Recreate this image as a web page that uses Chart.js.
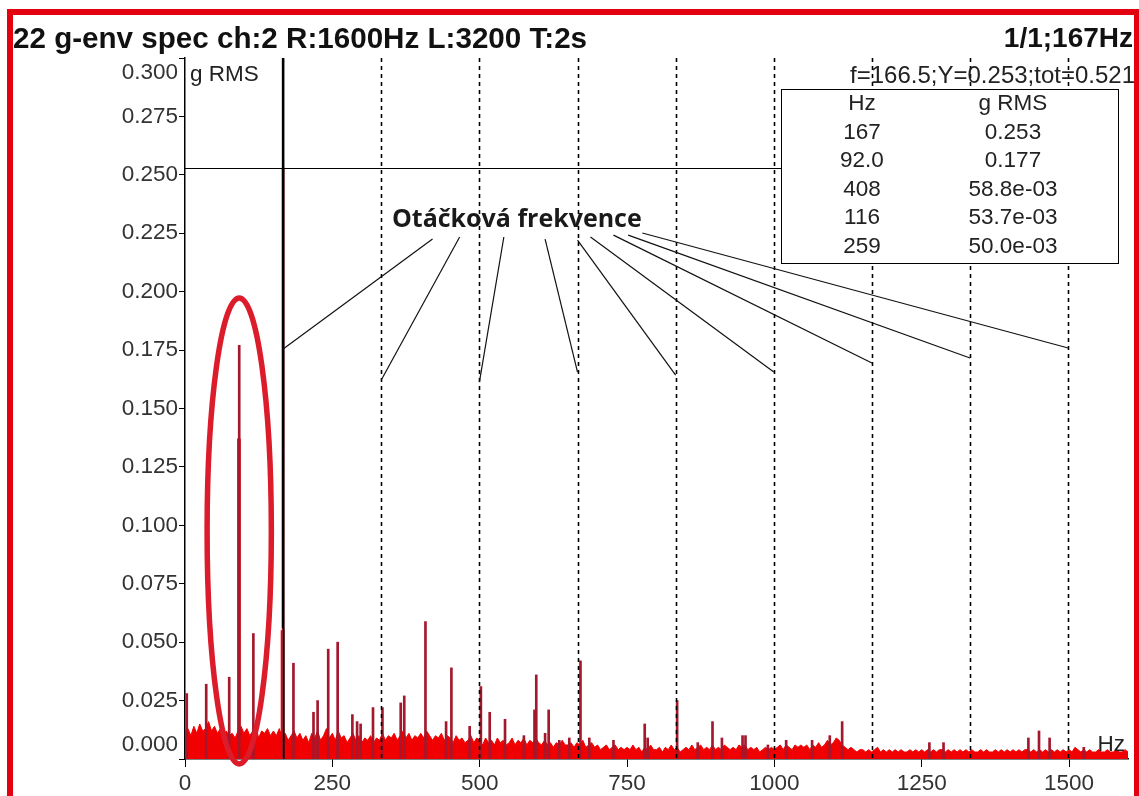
<!DOCTYPE html>
<html>
<head>
<meta charset="utf-8">
<script src="https://cdn.jsdelivr.net/npm/chart.js@4.4.1/dist/chart.umd.min.js"></script>
<style>
  html,body{margin:0;padding:0;background:#fff;}
  body{width:1139px;height:796px;position:relative;overflow:hidden;font-family:"Liberation Sans",Arial,sans-serif;}
  #frame{position:absolute;left:7px;top:9px;width:1121px;height:820px;border-left:6px solid #e3000f;border-top:6px solid #e3000f;border-right:5px solid #e3000f;box-sizing:content-box;}
  #wrap{position:absolute;left:0;top:0;width:1139px;height:796px;}
  .t{position:absolute;white-space:nowrap;color:#111;}
  #title{left:13px;top:21px;font-weight:bold;font-size:29.6px;line-height:34px;}
  #tright{right:6px;top:22px;font-weight:bold;font-size:28px;line-height:32px;}
  #info{right:4px;top:62px;font-size:24px;line-height:26px;color:#222;}
  #tbl{position:absolute;left:781px;top:89px;width:336px;height:173px;border:1.5px solid #000;background:#fff;}
  #tbl table{border-collapse:collapse;font-size:22.5px;color:#222;margin-top:-1px;}
  #tbl td{padding:0;height:28.6px;line-height:28.6px;text-align:center;}
</style>
</head>
<body>
<div id="wrap"><canvas id="c" width="1139" height="796"></canvas></div>
<div id="frame"></div>
<div class="t" id="title">22 g-env spec ch:2 R:1600Hz L:3200 T:2s</div>
<div class="t" id="tright">1/1;167Hz</div>
<div class="t" id="info">f=166.5;Y=0.253;tot=0.521</div>
<div id="tbl"><table id="tb"></table></div>
<script>
// ---------------- DATA ----------------
const xTicks = [0, 250, 500, 750, 1000, 1250, 1500];
const xTickLabels = ["0", "250", "500", "750", "1000", "1250", "1500"];
const yTicks = [0, 0.025, 0.05, 0.075, 0.1, 0.125, 0.15, 0.175, 0.2, 0.225, 0.25, 0.275, 0.3];
const yTickLabels = ["0.000","0.025","0.050","0.075","0.100","0.125","0.150","0.175","0.200","0.225","0.250","0.275","0.300"];

// noise floor of the envelope spectrum, one value every NOISE_STEP_HZ from 0 Hz
const NOISE_STEP_HZ = 5;
const noiseFloor = [
0.012,0.013,0.010,0.014,0.011,0.015,0.012,0.013,0.016,0.012,
0.014,0.011,0.013,0.009,0.012,0.010,0.011,0.009,0.012,0.014,
0.011,0.013,0.010,0.012,0.014,0.009,0.012,0.011,0.013,0.010,
0.012,0.010,0.013,0.009,0.011,0.008,0.010,0.012,0.009,0.011,
0.008,0.010,0.007,0.011,0.009,0.012,0.008,0.010,0.013,0.009,
0.011,0.008,0.012,0.009,0.010,0.007,0.009,0.011,0.008,0.010,
0.007,0.009,0.008,0.010,0.007,0.009,0.008,0.011,0.008,0.010,
0.009,0.011,0.008,0.010,0.012,0.009,0.011,0.008,0.010,0.009,
0.011,0.009,0.012,0.010,0.008,0.010,0.009,0.011,0.008,0.010,
0.009,0.007,0.010,0.008,0.009,0.007,0.008,0.010,0.007,0.009,
0.008,0.006,0.009,0.007,0.008,0.006,0.009,0.007,0.008,0.006,
0.007,0.009,0.006,0.008,0.007,0.009,0.006,0.008,0.007,0.009,
0.007,0.006,0.008,0.006,0.007,0.005,0.007,0.006,0.008,0.006,
0.006,0.007,0.005,0.007,0.006,0.008,0.005,0.006,0.007,0.005,
0.006,0.004,0.005,0.006,0.004,0.005,0.006,0.004,0.005,0.004,
0.005,0.004,0.006,0.004,0.005,0.003,0.005,0.004,0.006,0.004,
0.004,0.005,0.003,0.005,0.004,0.006,0.004,0.005,0.003,0.004,
0.005,0.004,0.006,0.004,0.005,0.006,0.004,0.005,0.004,0.006,
0.004,0.005,0.004,0.006,0.005,0.004,0.005,0.004,0.006,0.005,
0.006,0.004,0.005,0.004,0.005,0.003,0.004,0.005,0.004,0.005,
0.004,0.005,0.006,0.004,0.006,0.005,0.004,0.006,0.005,0.006,
0.005,0.006,0.004,0.006,0.005,0.007,0.005,0.006,0.008,0.006,
0.007,0.009,0.008,0.006,0.005,0.004,0.005,0.004,0.003,0.004,
0.004,0.003,0.004,0.003,0.004,0.005,0.003,0.004,0.003,0.004,
0.003,0.004,0.003,0.004,0.003,0.003,0.004,0.003,0.004,0.003,
0.004,0.003,0.004,0.003,0.004,0.003,0.004,0.004,0.003,0.004,
0.003,0.004,0.003,0.004,0.003,0.004,0.003,0.004,0.003,0.003,
0.004,0.003,0.004,0.003,0.003,0.004,0.003,0.004,0.003,0.004,
0.003,0.004,0.003,0.004,0.003,0.004,0.004,0.003,0.004,0.003,
0.004,0.003,0.004,0.003,0.004,0.003,0.004,0.003,0.004,0.003,
0.004,0.003,0.005,0.004,0.003,0.004,0.003,0.004,0.003,0.003,
0.004,0.003,0.003,0.004,0.003,0.003,0.004,0.003,0.003,0.004,
0.003
];

// discrete spectral lines (dark red)
const peakHz  = [3, 36, 75, 92, 116, 166.5, 184, 218, 225, 243, 259, 284, 292, 298, 319, 335,
                 366, 372, 408, 443, 452, 483, 502, 517, 543, 575, 593, 596, 611, 617, 635, 652,
                 671, 686, 727, 780, 785, 835, 870, 895, 911, 946, 951, 989, 1020, 1064, 1094,
                 1115, 1263, 1287, 1431, 1449, 1467, 1525];
const peakAmp = [0.028, 0.032, 0.035, 0.177, 0.0537, 0.253, 0.041, 0.020, 0.025, 0.047, 0.050, 0.019, 0.016, 0.015, 0.022, 0.022,
                 0.024, 0.027, 0.0588, 0.016, 0.039, 0.014, 0.031, 0.020, 0.017, 0.010, 0.021, 0.036, 0.011, 0.021, 0.008, 0.009,
                 0.042, 0.009, 0.008, 0.015, 0.009, 0.025, 0.007, 0.016, 0.009, 0.010, 0.010, 0.006, 0.008, 0.008, 0.010,
                 0.016, 0.007, 0.007, 0.009, 0.012, 0.009, 0.005];
// neighbouring bins drawn in bright red
const binHz  = [91.5, 165.5];
const binAmp = [0.137, 0.055];

// cursor / harmonic cursors
const cursorHz = 166.5;
const cursorY = 0.253;
const harmonicOrders = [2, 3, 4, 5, 6, 7, 8, 9];
const cursorLineEndHz = 1013;

// table of largest peaks
const tableHz  = ["167", "92.0", "408", "116", "259"];
const tableAmp = ["0.253", "0.177", "58.8e-03", "53.7e-03", "50.0e-03"];

// annotation "Otáčková frekvence"
const annotText = "Otáčková frekvence";
const annotHz = 563, annotY = 0.2307;
const leaderStartHz = [420, 466, 541, 611, 666, 688, 727, 752, 776];
const leaderStartY  = [0.2225, 0.2234, 0.2234, 0.2225, 0.2221, 0.2234, 0.2242, 0.2242, 0.2251];
const leaderEndOrder = [1, 2, 3, 4, 5, 6, 7, 8, 9];
const leaderEndY    = [0.1755, 0.1622, 0.1613, 0.1656, 0.1643, 0.1656, 0.1695, 0.1716, 0.1759];

// highlight ellipse around the 92 Hz line
const ellipseHz = 92, ellipseY = 0.0976, ellipseRxHz = 54.5, ellipseRyY = 0.0997;

// ---------------- TABLE ----------------
(function(){
  const tb = document.getElementById('tb');
  let html = '<tr><td style="width:160px">Hz</td><td style="width:142px">g RMS</td></tr>';
  for (let i = 0; i < tableHz.length; i++) html += '<tr><td>' + tableHz[i] + '</td><td>' + tableAmp[i] + '</td></tr>';
  tb.innerHTML = html;
})();

// ---------------- CHART ----------------
const noiseData = noiseFloor.map((v, i) => ({x: i * NOISE_STEP_HZ, y: v}));
const peakData = peakHz.map((f, i) => ({x: f, y: peakAmp[i]}));
const binData = binHz.map((f, i) => ({x: f, y: binAmp[i]}));

const FONT = '"Liberation Sans", Arial, sans-serif';

const overlay = {
  id: 'overlay',
  afterDatasetsDraw(chart) {
    const ctx = chart.ctx, xs = chart.scales.x, ys = chart.scales.y, a = chart.chartArea;
    ctx.save();
    // dashed harmonic cursors
    ctx.strokeStyle = '#000'; ctx.lineWidth = 1.6; ctx.setLineDash([4, 4]);
    harmonicOrders.forEach(k => {
      const x = Math.round(xs.getPixelForValue(k * cursorHz)) + 0.5;
      ctx.beginPath(); ctx.moveTo(x, a.top); ctx.lineTo(x, a.bottom); ctx.stroke();
    });
    ctx.setLineDash([]);
    // main cursor
    const cx = xs.getPixelForValue(cursorHz);
    ctx.lineWidth = 2.6;
    ctx.beginPath(); ctx.moveTo(cx, a.top); ctx.lineTo(cx, ys.getPixelForValue(0.056)); ctx.stroke();
    ctx.lineWidth = 1.6;
    ctx.beginPath(); ctx.moveTo(cx + 0.6, ys.getPixelForValue(0.056)); ctx.lineTo(cx + 0.6, a.bottom); ctx.stroke();
    const cy = Math.round(ys.getPixelForValue(cursorY)) + 0.5;
    ctx.lineWidth = 1.2;
    ctx.beginPath(); ctx.moveTo(a.left, cy); ctx.lineTo(xs.getPixelForValue(cursorLineEndHz), cy); ctx.stroke();

    // leader lines
    ctx.strokeStyle = '#111'; ctx.lineWidth = 1.2;
    leaderStartHz.forEach((f, i) => {
      ctx.beginPath();
      ctx.moveTo(xs.getPixelForValue(f), ys.getPixelForValue(leaderStartY[i]));
      ctx.lineTo(xs.getPixelForValue(leaderEndOrder[i] * cursorHz), ys.getPixelForValue(leaderEndY[i]));
      ctx.stroke();
    });
    // annotation text
    ctx.fillStyle = '#1a1a1a';
    ctx.font = 'bold 25px "Open Sans", "DejaVu Sans", sans-serif';
    ctx.textAlign = 'center'; ctx.textBaseline = 'middle';
    ctx.fillText(annotText, xs.getPixelForValue(annotHz), ys.getPixelForValue(annotY));

    // ellipse
    const ex = xs.getPixelForValue(ellipseHz), ey = ys.getPixelForValue(ellipseY);
    const rx = xs.getPixelForValue(ellipseHz + ellipseRxHz) - ex;
    const ry = ey - ys.getPixelForValue(ellipseY + ellipseRyY);
    ctx.strokeStyle = '#dc1c2a'; ctx.lineWidth = 5.5;
    ctx.beginPath(); ctx.ellipse(ex, ey, rx, ry, 0, 0, Math.PI * 2); ctx.stroke();

    // y tick labels
    ctx.fillStyle = '#333'; ctx.font = '22.5px ' + FONT;
    ctx.textAlign = 'right'; ctx.textBaseline = 'middle';
    yTicks.forEach((v, i) => {
      let y = ys.getPixelForValue(v);
      y = Math.min(Math.max(y, a.top + 15), a.bottom - 14);
      ctx.fillText(yTickLabels[i], a.left - 7, y);
    });
    // axis titles
    ctx.fillStyle = '#222';
    ctx.textAlign = 'left';
    ctx.fillText('g RMS', a.left + 5, a.top + 17);
    ctx.textAlign = 'right';
    ctx.fillText('Hz', a.right - 3, a.bottom - 14);
    ctx.restore();
  }
};

new Chart(document.getElementById('c'), {
  type: 'bar',
  data: {
    datasets: [
      {type: 'bar', label: 'lines', data: peakData, backgroundColor: '#a3182c', barThickness: 2, grouped: false, order: 0},
      {type: 'bar', label: 'bins', data: binData, backgroundColor: '#f00000', barThickness: 3, grouped: false, order: 1},
      {type: 'line', label: 'spectrum', data: noiseData, borderColor: '#f00000', backgroundColor: '#f00000',
       borderWidth: 1, fill: 'origin', pointRadius: 0, tension: 0, order: 2}
    ]
  },
  options: {
    responsive: false, animation: false, devicePixelRatio: 1,
    layout: {padding: {left: 0, top: 58, right: 11, bottom: 0}},
    plugins: {legend: {display: false}, tooltip: {enabled: false}, title: {display: false}},
    scales: {
      x: {
        type: 'linear', min: 0, max: 1600, offset: false,
        afterBuildTicks: s => { s.ticks = xTicks.map(v => ({value: v})); },
        afterFit: s => { s.height = 37; },
        grid: {offset: false, drawOnChartArea: false, drawTicks: true, tickLength: 8, color: '#000'},
        border: {display: true, color: '#000', width: 1.5},
        ticks: {font: {family: FONT, size: 22.5}, color: '#333', padding: 3, maxRotation: 0, autoSkip: false,
                callback: (v) => { const i = xTicks.indexOf(v); return i >= 0 ? xTickLabels[i] : ''; }}
      },
      y: {
        type: 'linear', min: 0, max: 0.3,
        afterBuildTicks: s => { s.ticks = yTicks.map(v => ({value: v})); },
        afterFit: s => { s.width = 185; },
        grid: {drawOnChartArea: false, drawTicks: true, tickLength: 6, color: '#000'},
        border: {display: true, color: '#000', width: 1.5},
        ticks: {display: false}
      }
    }
  },
  plugins: [overlay]
});
</script>
</body>
</html>
